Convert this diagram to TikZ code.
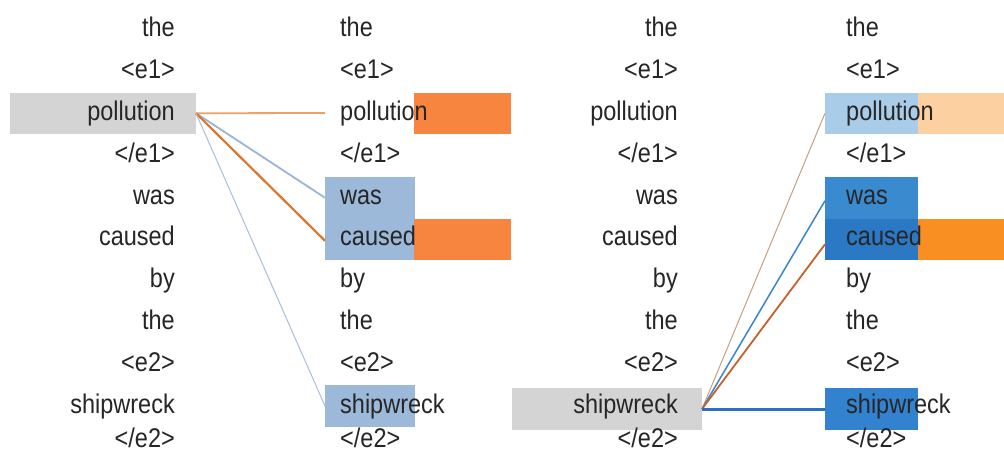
\documentclass[tikz,border=0pt]{standalone}
\usepackage{fontspec}
\setmainfont{Liberation Sans}
\usepackage{graphicx}
\definecolor{txt}{HTML}{262626}
\definecolor{gbox}{HTML}{D4D4D4}
\definecolor{orL}{HTML}{F7843F}
\definecolor{blL}{HTML}{9DB9DA}
\definecolor{blRp}{HTML}{A9CDE9}
\definecolor{peach}{HTML}{FDD0A2}
\definecolor{blRw}{HTML}{3A8AD0}
\definecolor{blRc}{HTML}{2B78C5}
\definecolor{orR}{HTML}{F98E22}
\definecolor{blRs}{HTML}{3282CF}
\definecolor{lnOrA}{HTML}{F0A060}
\definecolor{lnOrB}{HTML}{D9782E}
\definecolor{lnBlA}{HTML}{9DB5D5}
\definecolor{lnBlB}{HTML}{A8BEDC}
\definecolor{lnTan}{HTML}{C8A080}
\definecolor{lnBlC}{HTML}{3A85CF}
\definecolor{lnOrC}{HTML}{C8602A}
\definecolor{lnBlD}{HTML}{2E6FBF}
\newcommand{\stw}[1]{\scalebox{1}[1.15]{#1}}
\begin{document}
\begin{tikzpicture}[x=1pt,y=-1pt,
 wd/.style={font=\fontsize{23.5}{24}\selectfont, text=txt, inner sep=0pt, text height=18pt, text depth=5pt},
 lw/.style={wd, anchor=east},
 rw/.style={wd, anchor=west},
 box/.style={draw=none, inner sep=0pt, outer sep=0pt, anchor=north west, minimum height=41.5pt},
]
\useasboundingbox[fill=white] (0,0) rectangle (1004,455);

% ---- left panel boxes
\node[box, fill=gbox, minimum width=186pt] (gL) at (10,92.5) {};
\node[box, fill=orL, minimum width=97pt] (oLp) at (414,92.5) {};
\node[box, fill=blL, minimum width=90pt] (bLw) at (325,177) {};
\node[box, fill=blL, minimum width=90pt] (bLc) at (325,218.5) {};
\node[box, fill=orL, minimum width=97pt] (oLc) at (414,218.5) {};
\node[box, fill=blL, minimum width=90pt, minimum height=42pt] (bLs) at (325,385) {};
\coordinate (pL) at (325,113);

% ---- right panel boxes
\node[box, fill=gbox, minimum width=190pt, minimum height=42pt] (gR) at (512,388) {};
\node[box, fill=blRp, minimum width=93pt] (bRp) at (825,92.5) {};
\node[box, fill=peach, minimum width=86pt] (pRp) at (918,92.5) {};
\node[box, fill=blRw, minimum width=93pt] (bRw) at (825,177) {};
\node[box, fill=blRc, minimum width=93pt] (bRc) at (825,218.5) {};
\node[box, fill=orR, minimum width=86pt] (oRc) at (918,218.5) {};
\node[box, fill=blRs, minimum width=93pt, minimum height=42pt] (bRs) at (825,388) {};

% ---- left connectors
\draw[lnOrA, line width=1.8pt] (gL.east) -- (pL);
\draw[lnBlA, line width=1.8pt] (gL.east) -- (bLw.west);
\draw[lnOrB, line width=2.2pt] (gL.east) -- ([yshift=-1.5pt]bLc.west);
\draw[lnBlB, line width=1pt] (gL.east) -- (bLs.west);

% ---- right connectors
\draw[lnTan, line width=1pt] (gR.east) -- (bRp.west);
\draw[lnBlC, line width=1.5pt] (gR.east) -- ([yshift=-3pt]bRw.west);
\draw[lnOrC, line width=1.8pt] (gR.east) -- ([yshift=-5pt]bRc.west);
\draw[lnBlD, line width=3pt] (gR.east) -- (bRs.west);

% ---- words
\foreach \w [count=\i from 0] in {the,<e1>,pollution,</e1>,was,caused,by,the,<e2>,shipwreck}{
  \pgfmathsetmacro{\yy}{30.4+41.8*\i}
  \node[lw] (la\i) at (175,\yy) {\stw{\w}};
  \node[rw] (ra\i) at (340,\yy) {\stw{\w}};
  \node[lw] (lb\i) at (678,\yy) {\stw{\w}};
  \node[rw] (rb\i) at (846,\yy) {\stw{\w}};
}
\node[lw] (la10) at (175,441) {\stw{</e2>}};
\node[rw] (ra10) at (340,441) {\stw{</e2>}};
\node[lw] (lb10) at (678,441) {\stw{</e2>}};
\node[rw] (rb10) at (846,441) {\stw{</e2>}};
\end{tikzpicture}
\end{document}
